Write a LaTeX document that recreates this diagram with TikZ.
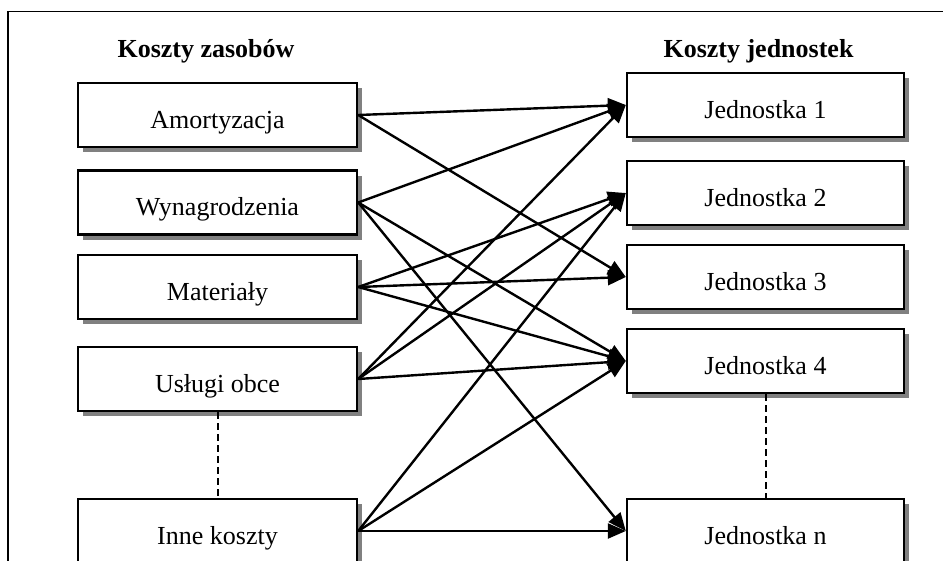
\documentclass[tikz,border=0pt]{standalone}
\usepackage{fontspec}
\setmainfont{Liberation Serif}
\usetikzlibrary{arrows.meta,shadows}
\definecolor{shadowgray}{RGB}{128,128,128}
\begin{document}
\begin{tikzpicture}[x=1pt,y=-1pt,
  box/.style={draw=black, line width=2.4pt, fill=white, minimum width=279pt, minimum height=64pt,
    inner sep=0pt, text height=26pt, text depth=0pt,
    font=\fontsize{26}{30}\selectfont,
    general shadow={fill=shadowgray, shadow xshift=5pt, shadow yshift=-5pt}},
  header/.style={font=\fontsize{26}{30}\selectfont\bfseries, anchor=base, inner sep=0pt},
  arr/.style={line width=2.4pt, -{Triangle[length=18pt,width=15pt]}},
  dots/.style={line width=2pt, dash pattern=on 7pt off 4pt}]
\useasboundingbox (0,0) rectangle (943,560);
\clip (0,0) rectangle (943,560);
\fill[white] (0,0) rectangle (943,560);
% frame
\draw[line width=1.8pt] (8,600) -- (8,11.5) -- (980,11.5);
% headers
\node[header] (hl) at (206,57) {Koszty zasobów};
\node[header] (hr) at (758.5,57) {Koszty jednostek};
% left boxes
\node[box] (a) at (217.5,115) {Amortyzacja};
\node[box] (w) at (217.5,202.5) {Wynagrodzenia};
\node[box] (m) at (217.5,287) {Materiały};
\node[box] (u) at (217.5,379) {Usługi obce};
\node[box] (i) at (217.5,531) {Inne koszty};
% right boxes
\node[box, minimum width=277pt] (j1) at (765.5,105) {Jednostka 1};
\node[box, minimum width=277pt] (j2) at (765.5,193) {Jednostka 2};
\node[box, minimum width=277pt] (j3) at (765.5,277) {Jednostka 3};
\node[box, minimum width=277pt] (j4) at (765.5,361) {Jednostka 4};
\node[box, minimum width=277pt] (jn) at (765.5,531) {Jednostka n};
% dashed
\draw[dots] (u.south) -- (i.north);
\draw[dots] (j4.south) -- (jn.north);
% arrows
\draw[arr] (a.east) -- (j1.west);
\draw[arr] (a.east) -- (j3.west);
\draw[arr] (w.east) -- (j1.west);
\draw[arr] (w.east) -- (j4.west);
\draw[arr] (w.east) -- (jn.west);
\draw[arr] (m.east) -- (j2.west);
\draw[arr] (m.east) -- (j3.west);
\draw[arr] (m.east) -- (j4.west);
\draw[arr] (u.east) -- (j1.west);
\draw[arr] (u.east) -- (j2.west);
\draw[arr] (u.east) -- (j4.west);
\draw[arr] (i.east) -- (j2.west);
\draw[arr] (i.east) -- (j4.west);
\draw[arr] (i.east) -- (jn.west);
\end{tikzpicture}
\end{document}
